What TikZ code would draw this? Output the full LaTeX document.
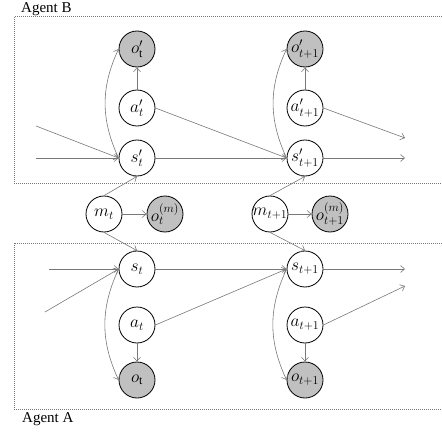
\documentclass[tikz,border=0pt]{standalone}
\usepackage{fontspec}
\setmainfont{Liberation Serif}
\usetikzlibrary{arrows.meta}
\definecolor{nodefill}{RGB}{192,192,192}
\definecolor{linegray}{RGB}{120,120,120}
\tikzset{
  var/.style={circle,draw=black,line width=0.8pt,fill=white,minimum size=36pt,inner sep=0pt,font=\fontsize{17}{19}\selectfont},
  obs/.style={var,fill=nodefill},
  edge/.style={draw=linegray,line width=0.6pt,-{Straight Barb[length=4pt,width=7pt]}},
  agentbox/.style={draw=linegray,densely dotted,line width=1pt},
  agentlabel/.style={font=\fontsize{15}{17}\selectfont,inner sep=0pt}
}
\newcommand{\ml}[1]{\makebox[0pt]{$#1$}}
\begin{document}
\begin{tikzpicture}[x=1pt,y=-1pt]
\useasboundingbox (0,0) rectangle (442,436);
% boxes
\draw[agentbox] (442,17) -- (14,17) -- (14,183) -- (442,183);
\draw[agentbox] (442,243) -- (14,243) -- (14,409) -- (442,409);
\node[agentlabel,anchor=base west] (labB) at (21,13) {Agent B};
\node[agentlabel,anchor=base west] (labA) at (22,422) {Agent A};
% Agent B nodes
\node[obs] (op1) at (137,49) {\ml{o'_{\mathrm{t}}}};
\node[var] (ap1) at (137,108) {\ml{a'_t}};
\node[var] (sp1) at (137,158) {\ml{s'_t}};
\node[obs] (op2) at (305,49) {\ml{o'_{t+1}}};
\node[var] (ap2) at (305,108) {\ml{a'_{t+1}}};
\node[var] (sp2) at (305,158) {\ml{s'_{t+1}}};
% middle
\node[var] (m1) at (104,214) {\ml{m_t}};
\node[obs] (om1) at (165,214) {\ml{o_t^{(m)}}};
\node[var] (m2) at (270,214) {\ml{m_{t+1}}};
\node[obs] (om2) at (330,214) {\ml{o_{t+1}^{(m)}}};
% Agent A nodes
\node[var] (s1) at (137,269) {\ml{s_t}};
\node[var] (a1) at (137,325) {\ml{a_t}};
\node[obs] (o1) at (137,380) {\ml{o_{\mathrm{t}}}};
\node[var] (s2) at (305,269) {\ml{s_{t+1}}};
\node[var] (a2) at (305,325) {\ml{a_{t+1}}};
\node[obs] (o2) at (305,380) {\ml{o_{t+1}}};
% free ends
\coordinate (inB1) at (36,158);
\coordinate (inB2) at (36,126);
\coordinate (outB1) at (405,158);
\coordinate (outB2) at (405,138);
\coordinate (inA1) at (49,269);
\coordinate (inA2) at (45,312);
\coordinate (outA1) at (405,269);
\coordinate (outA2) at (405,286);
% Agent B edges
\draw[edge] (inB1) -- (sp1.west);
\draw[edge] (inB2) -- (sp1.west);
\draw[edge] (sp1) -- (sp2);
\draw[edge] (ap1.east) -- (sp2.west);
\draw[edge] (ap1) -- (op1);
\draw[edge] (sp1.west) to[bend left=25] (op1.west);
\draw[edge] (sp2) -- (outB1);
\draw[edge] (ap2.east) -- (outB2);
\draw[edge] (ap2) -- (op2);
\draw[edge] (sp2.west) to[bend left=25] (op2.west);
% middle edges
\draw[edge] (m1.north) -- (sp1.south);
\draw[edge] (m1) -- (om1);
\draw[edge] (m1.south) -- (s1.north);
\draw[edge] (m2.north) -- (sp2.south);
\draw[edge] (m2) -- (om2);
\draw[edge] (m2.south) -- (s2.north);
% Agent A edges
\draw[edge] (inA1) -- (s1.west);
\draw[edge] (inA2) -- (s1.west);
\draw[edge] (s1) -- (s2);
\draw[edge] (a1.east) -- (s2.west);
\draw[edge] (a1) -- (o1);
\draw[edge] (s1.west) to[bend right=25] (o1.west);
\draw[edge] (s2) -- (outA1);
\draw[edge] (a2.east) -- (outA2);
\draw[edge] (a2) -- (o2);
\draw[edge] (s2.west) to[bend right=25] (o2.west);
\end{tikzpicture}
\end{document}
